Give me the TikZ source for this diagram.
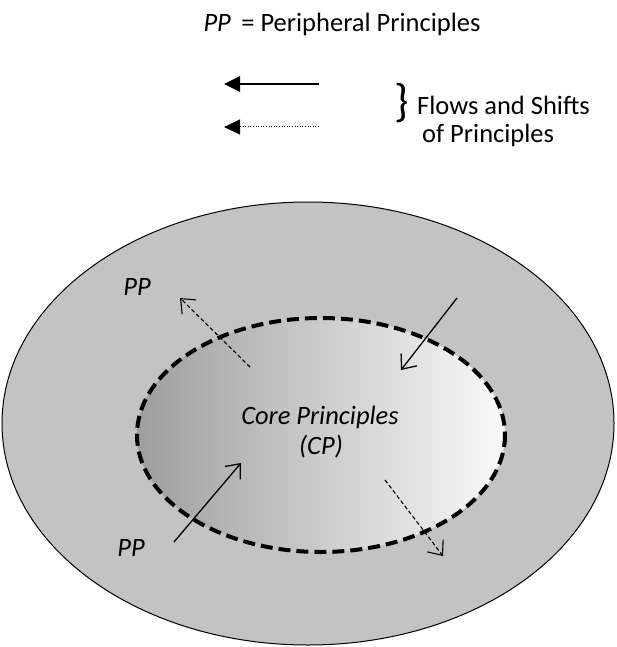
\documentclass[tikz,border=0pt]{standalone}
\usepackage{fontspec}
\setmainfont{Carlito}
\usetikzlibrary{arrows.meta}
\definecolor{outergray}{HTML}{C3C3C3}
\definecolor{innerdark}{HTML}{9E9E9E}
\definecolor{innerlight}{HTML}{FAFAFA}
\begin{document}
\begin{tikzpicture}[x=1pt,y=-1pt,
  lbl/.style={inner sep=0pt,font=\fontsize{26.5}{31}\selectfont},
  ilbl/.style={inner sep=0pt,font=\fontsize{26.5}{31}\selectfont\itshape},
  legendsolid/.style={line width=2.8pt,-{Triangle[length=16pt,width=15pt]}},
  legenddotted/.style={line width=1pt,dash pattern=on 1pt off 1.6pt,-{Triangle[length=16pt,width=15pt]}},
  flowsolid/.style={line width=1.3pt,-{Straight Barb[length=12pt,width=20pt,line width=1.3pt]}},
  flowdashed/.style={line width=1.1pt,dash pattern=on 4pt off 2.5pt,-{Straight Barb[length=12pt,width=20pt,line width=1.1pt]}}]
\useasboundingbox (0,0) rectangle (616,647);

% legend
\node[lbl,anchor=base] (key) at (342,32) {\textit{PP}\, = Peripheral Principles};
\coordinate (s1) at (319,84);  \coordinate (e1) at (224,84);
\coordinate (s2) at (319,127); \coordinate (e2) at (224,127);
\draw[legendsolid] (s1) -- (e1);
\draw[legenddotted] (s2) -- (e2);
\node[inner sep=0pt,font=\fontsize{46}{46}\selectfont] (brace) at (402,103) {\}};
\node[lbl,anchor=base west] (flows) at (417,115) {Flows and Shifts};
\node[lbl,anchor=base west] (ofp) at (422,143) {of Principles};

% outer peripheral region and inner core region
\draw[line width=1pt,fill=outergray] (308,423.5) ellipse [x radius=306,y radius=221.5];
\shade[left color=innerdark,right color=innerlight] (321,435) ellipse [x radius=184,y radius=117];
\draw[line width=4pt,dash pattern=on 12pt off 6pt] (321,435) ellipse [x radius=184,y radius=117];

% labels
\node[ilbl] (pp1) at (137,287) {PP};
\node[ilbl] (pp2) at (131,548) {PP};
\node[ilbl] (core) at (320,417) {Core Principles};
\node[ilbl] (cp) at (321,447) {(CP)};

% flows across the boundary
\coordinate (a1) at (250,367); \coordinate (b1) at (180,298);
\coordinate (a2) at (457,298); \coordinate (b2) at (401,370);
\coordinate (a3) at (174,542); \coordinate (b3) at (241,463);
\coordinate (a4) at (385,480); \coordinate (b4) at (443,556);
\draw[flowdashed] (a1) -- (b1);
\draw[flowsolid] (a2) -- (b2);
\draw[flowsolid] (a3) -- (b3);
\draw[flowdashed] (a4) -- (b4);
\end{tikzpicture}
\end{document}
